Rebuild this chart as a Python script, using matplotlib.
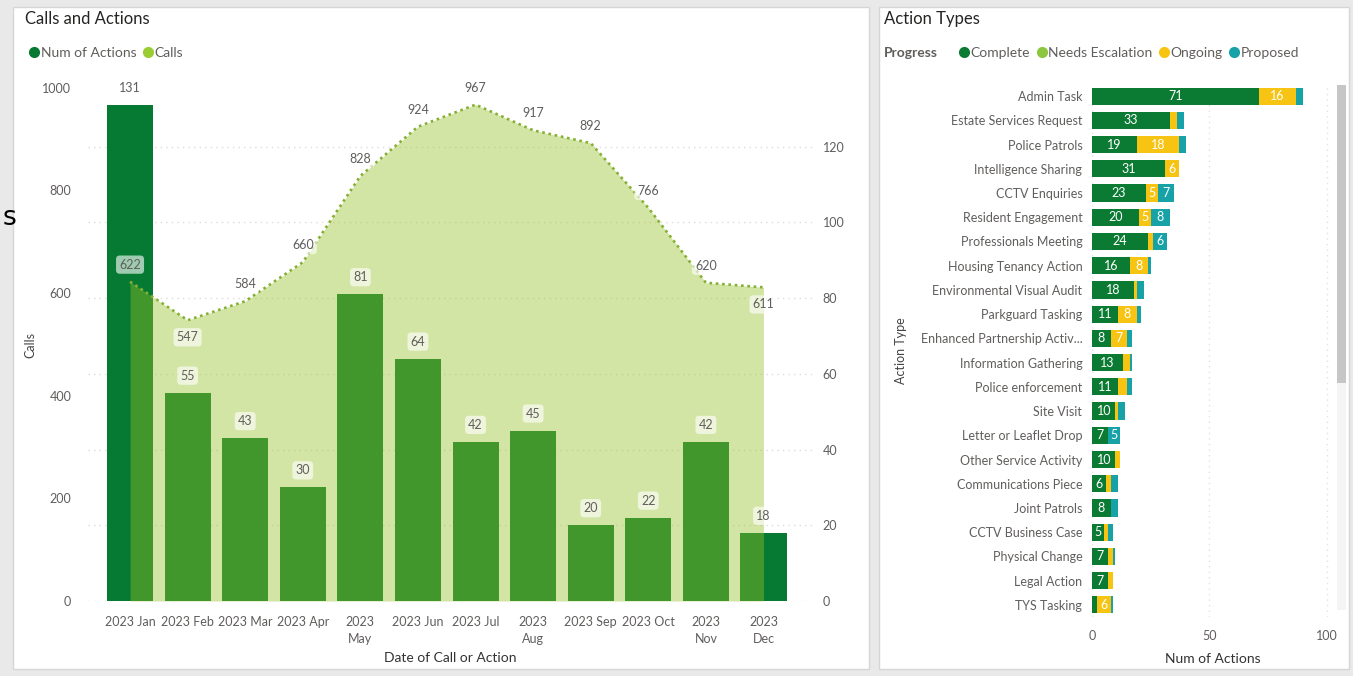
import matplotlib
matplotlib.use("Agg")
import matplotlib.pyplot as plt
from matplotlib.patches import Rectangle
from matplotlib.lines import Line2D
import numpy as np

plt.rcParams['font.family'] = ['Lato', 'DejaVu Sans']

# ---- data: calls and actions by month
months = ["2023 Jan", "2023 Feb", "2023 Mar", "2023 Apr", "2023\nMay", "2023 Jun",
          "2023 Jul", "2023\nAug", "2023 Sep", "2023 Oct", "2023\nNov", "2023\nDec"]
calls = [622, 547, 584, 660, 828, 924, 967, 917, 892, 766, 620, 611]
num_actions = [131, 55, 43, 30, 81, 64, 42, 45, 20, 22, 42, 18]

# ---- data: action types by progress
action_types = ["Admin Task", "Estate Services Request", "Police Patrols", "Intelligence Sharing",
                "CCTV Enquiries", "Resident Engagement", "Professionals Meeting",
                "Housing Tenancy Action", "Environmental Visual Audit", "Parkguard Tasking",
                "Enhanced Partnership Activ...", "Information Gathering", "Police enforcement",
                "Site Visit", "Letter or Leaflet Drop", "Other Service Activity",
                "Communications Piece", "Joint Patrols", "CCTV Business Case",
                "Physical Change", "Legal Action", "TYS Tasking"]
complete = [71, 33, 19, 31, 23, 20, 24, 16, 18, 11, 8, 13, 11, 10, 7, 10, 6, 8, 5, 7, 7, 2]
needs_escalation = [0] * 22
ongoing = [16, 3, 18, 6, 5, 5, 2, 8, 1, 8, 7, 3, 4, 1, 0, 2, 2, 0, 2, 2, 2, 6]
proposed = [3, 3, 3, 0, 7, 8, 6, 1, 3, 2, 2, 1, 2, 3, 5, 0, 3, 3, 2, 1, 0, 1]
progress_names = ["Complete", "Needs Escalation", "Ongoing", "Proposed"]

W, H = 1353, 676
fig = plt.figure(figsize=(W / 100, H / 100), dpi=100)
fig.patch.set_facecolor("#e9e9e9")

def rect(x0, y0, x1, y1):
    # pixel box (top-left origin) -> figure fraction
    return [x0 / W, 1 - y1 / H, (x1 - x0) / W, (y1 - y0) / H]

# panel backgrounds
for x0, x1 in [(13, 869), (879, 1349)]:
    fig.add_artist(Rectangle((x0 / W, 1 - 669 / H), (x1 - x0) / W, (669 - 7) / H,
                             transform=fig.transFigure, facecolor="white",
                             edgecolor="#d6d6d6", lw=1, zorder=0))

grey = "#605E5C"
dark = "#252423"
c_bar = "#067a32"
c_area = "#96c025"
c_line = "#86b035"

# ---------------- left chart
ax_bar = fig.add_axes(rect(88, 80, 813, 601))
ax_area = ax_bar.twinx()
x = np.arange(len(months))

ax_bar.bar(x, num_actions, width=0.8, color=c_bar, zorder=2)
ax_bar.set_ylim(0, 137.6)
ax_bar.set_yticks([0, 20, 40, 60, 80, 100, 120])
ax_bar.yaxis.tick_right()
ax_bar.grid(axis="y", color="#dcdcdc", linestyle=(0, (1, 3)), lw=1)
ax_bar.set_axisbelow(True)
ax_bar.set_xlim(-0.73, 11.86)
ax_bar.set_xticks(x)
ax_bar.set_xticklabels(months, fontsize=9, color=grey, linespacing=1.45)
ax_bar.tick_params(axis="x", length=0, pad=11)
ax_bar.tick_params(axis="y", length=0, pad=7, labelsize=9, labelcolor=grey)
ax_bar.set_xlabel("Date of Call or Action", fontsize=10, color="#333333", labelpad=5)

ax_area.fill_between(x, calls, 0, color=c_area, alpha=0.41, lw=0, zorder=1)
ax_area.plot(x, calls, color=c_line, lw=1.9, linestyle=(0, (1, 1.4)), zorder=2)
ax_area.set_ylim(0, 1015)
ax_area.set_yticks([0, 200, 400, 600, 800, 1000])
ax_area.yaxis.tick_left()
ax_area.tick_params(axis="y", length=0, pad=12, labelsize=9, labelcolor=grey)

for a in (ax_bar, ax_area):
    for s in a.spines.values():
        s.set_visible(False)

fig.text(30 / W, 1 - 345 / H, "Calls", fontsize=9, color="#444444", rotation=90,
         ha="center", va="center")

box = dict(boxstyle="round,pad=0.25,rounding_size=0.3", facecolor="white", alpha=0.62, lw=0)
for i, v in enumerate(num_actions):
    ax_area.annotate(str(v), (i, v), xycoords=ax_bar.transData, xytext=(0, 12.3),
                     textcoords="offset points", ha="center", va="center",
                     fontsize=9, color=grey, bbox=box, zorder=5)
call_dirs = [1, -1, 1, 1, 1, 1, 1, 1, 1, 1, 1, -1]
for i, v in enumerate(calls):
    ax_area.annotate(str(v), (i, v), xytext=(0, 12.3 * call_dirs[i]),
                     textcoords="offset points", ha="center", va="center",
                     fontsize=9, color=grey, bbox=box, zorder=5)

fig.text(25 / W, 1 - 19 / H, "Calls and Actions", fontsize=12, color=dark, va="center")
leg1 = [Line2D([], [], marker="o", ls="", color=c_bar, markersize=7),
        Line2D([], [], marker="o", ls="", color="#9acd32", markersize=7)]
fig.legend(leg1, ["Num of Actions", "Calls"], loc="center left",
           bbox_to_anchor=(24 / W, 1 - 53 / H), ncol=2, frameon=False, fontsize=10,
           handlelength=0.5, handletextpad=0.2, columnspacing=0.6, borderpad=0,
           labelcolor=grey)

fig.text(3 / W, 1 - 218 / H, "s", fontsize=19, color="black", va="center",
         family="DejaVu Sans")

# ---------------- right chart
c_prog = ["#0b7a33", "#8dc63f", "#f8c413", "#16a2a6"]
ax_r = fig.add_axes(rect(1092, 84, 1334, 617))
series = [complete, needs_escalation, ongoing, proposed]
y = np.arange(len(action_types))
left = np.zeros(len(action_types))
for vals, col in zip(series, c_prog):
    vals = np.array(vals, dtype=float)
    ax_r.barh(y, vals, left=left, height=0.71, color=col, zorder=2)
    for yi, (l, v) in enumerate(zip(left, vals)):
        if v >= 5:
            ax_r.text(l + v / 2, yi, str(int(v)), ha="center", va="center",
                      fontsize=9, color="white", zorder=3)
    left += vals
ax_r.set_ylim(len(action_types) - 0.5, -0.5)
ax_r.set_xlim(0, 103)
ax_r.set_yticks(y)
ax_r.set_yticklabels(action_types, fontsize=9, color=grey)
ax_r.set_xticks([0, 50, 100])
ax_r.tick_params(axis="both", length=0, labelsize=9, labelcolor=grey)
ax_r.tick_params(axis="x", pad=9)
ax_r.tick_params(axis="y", pad=7)
ax_r.grid(axis="x", color="#e2e2e2", linestyle=(0, (1, 3)), lw=1)
ax_r.set_axisbelow(True)
for s in ax_r.spines.values():
    s.set_visible(False)
ax_r.set_xlabel("Num of Actions", fontsize=10, color="#333333", labelpad=8)
ax_r.set_ylabel("Action Type", fontsize=9, color="#444444", labelpad=10)

fig.text(884 / W, 1 - 19 / H, "Action Types", fontsize=12, color=dark, va="center")
fig.text(884 / W, 1 - 53 / H, "Progress", fontsize=10, color=grey, va="center",
         weight="bold")
leg2 = [Line2D([], [], marker="o", ls="", color=c, markersize=7) for c in c_prog]
fig.legend(leg2, progress_names, loc="center left",
           bbox_to_anchor=(954 / W, 1 - 53 / H), ncol=4, frameon=False, fontsize=10,
           handlelength=0.5, handletextpad=0.2, columnspacing=0.6, borderpad=0,
           labelcolor=grey)

# scrollbar
fig.add_artist(Rectangle((1337 / W, 1 - 610 / H), 9 / W, (610 - 85) / H,
                         transform=fig.transFigure, facecolor="#f4f4f4", lw=0))
fig.add_artist(Rectangle((1337 / W, 1 - 383 / H), 9 / W, (383 - 85) / H,
                         transform=fig.transFigure, facecolor="#c6c6c6", lw=0))

fig.savefig("out.png", dpi=100, facecolor=fig.get_facecolor())
